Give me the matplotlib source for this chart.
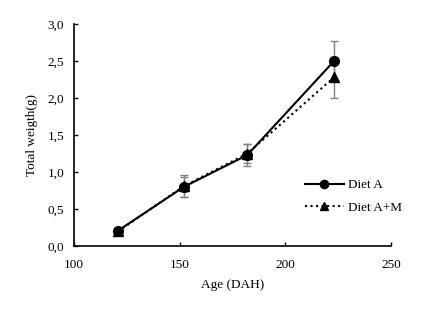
import matplotlib.pyplot as plt
from matplotlib.ticker import FuncFormatter

age = [121, 152, 182, 223]
diet_a = [0.21, 0.80, 1.23, 2.50]
diet_a_err = [0.04, 0.14, 0.15, 0.27]
diet_am = [0.20, 0.81, 1.25, 2.28]
diet_am_err = [0.04, 0.15, 0.13, 0.28]

plt.rcParams['font.family'] = 'Liberation Serif'
plt.rcParams['font.size'] = 9.5

fig = plt.figure(figsize=(4.42, 3.29), dpi=100)
ax = fig.add_axes([0.167, 0.252, 0.718, 0.675])

ax.errorbar(age, diet_am, yerr=diet_am_err, fmt='none', ecolor='#808080',
            elinewidth=1, capsize=3, capthick=1)
ax.errorbar(age, diet_a, yerr=diet_a_err, fmt='none', ecolor='#808080',
            elinewidth=1, capsize=3, capthick=1)
ax.plot(age, diet_am, color='black', linestyle=':', linewidth=1.5,
        marker='^', markersize=6.5, label='Diet A+M')
ax.plot(age, diet_a, color='black', linestyle='-', linewidth=1.5,
        marker='o', markersize=7, label='Diet A')

ax.set_xlim(100, 250)
ax.set_ylim(0, 3.0)
ax.set_xticks([100, 150, 200, 250])
ax.set_yticks([0, 0.5, 1.0, 1.5, 2.0, 2.5, 3.0])
ax.yaxis.set_major_formatter(FuncFormatter(lambda v, p: f"{v:.1f}".replace('.', ',')))
ax.tick_params(direction='in', length=3, width=1, colors='black')
ax.tick_params(axis='y', pad=7)
ax.tick_params(axis='x', pad=9)
for s in ['top', 'right']:
    ax.spines[s].set_visible(False)
for s in ['left', 'bottom']:
    ax.spines[s].set_linewidth(1.2)

ax.set_xlabel('Age (DAH)', labelpad=6)
ax.set_ylabel('Total weigth(g)', labelpad=7)

h, l = ax.get_legend_handles_labels()
leg = ax.legend(h[::-1], l[::-1], loc='center left', bbox_to_anchor=(0.69, 0.224),
                frameon=False, handlelength=3, labelspacing=0.75, handletextpad=0.3,
                markerscale=0.85)

fig.savefig('out.png', dpi=100)
